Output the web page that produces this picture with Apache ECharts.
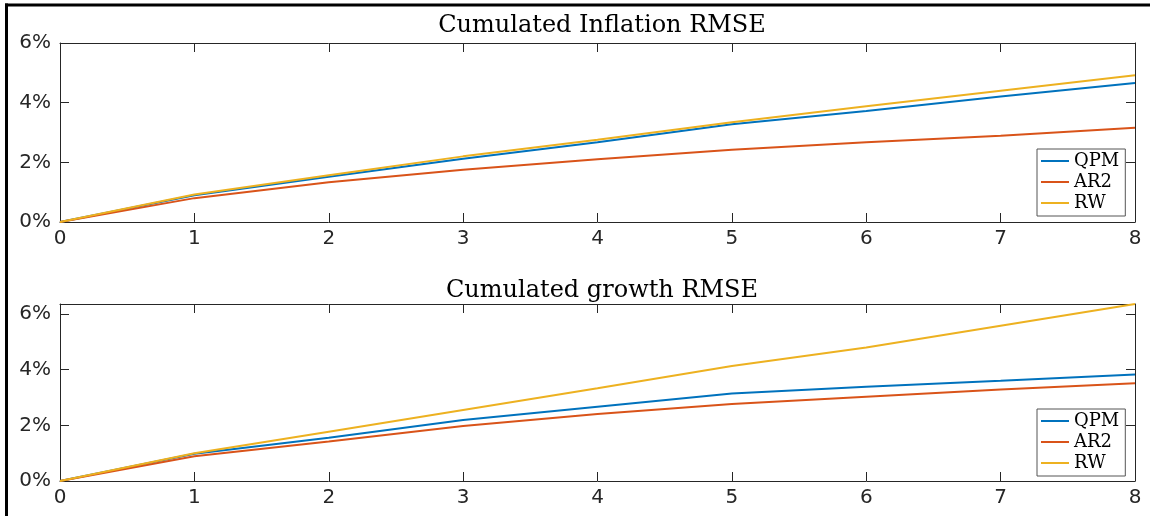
<!DOCTYPE html>
<html>
<head>
<meta charset="utf-8">
<script src="https://cdn.jsdelivr.net/npm/echarts@6/dist/echarts.min.js"></script>
<style>
html,body{margin:0;padding:0;background:#fff;}
#c{width:1150px;height:516px;}
</style>
</head>
<body>
<div id="c"></div>
<script>
const steps = [0, 1, 2, 3, 4, 5, 6, 7, 8];
const seriesNames = ['QPM', 'AR2', 'RW'];
const titles = ['Cumulated Inflation RMSE', 'Cumulated growth RMSE'];
const inflQPM = [0, 0.90, 1.52, 2.12, 2.67, 3.28, 3.72, 4.21, 4.66];
const inflAR2 = [0, 0.80, 1.33, 1.75, 2.10, 2.42, 2.67, 2.89, 3.16];
const inflRW  = [0, 0.92, 1.57, 2.20, 2.76, 3.34, 3.88, 4.40, 4.92];
const growQPM = [0, 0.98, 1.55, 2.19, 2.67, 3.14, 3.39, 3.60, 3.83];
const growAR2 = [0, 0.89, 1.42, 1.98, 2.41, 2.77, 3.03, 3.29, 3.51];
const growRW  = [0, 1.00, 1.77, 2.55, 3.33, 4.13, 4.80, 5.58, 6.36];
const yMax = [6, 6.36];

const colors = ['#0072BD', '#D95319', '#EDB120'];
const axisColor = '#262626';
const sans = 'DejaVu Sans';
const serif = 'DejaVu Serif';

function zip(ys) { return steps.map((x, i) => [x, ys[i]]); }

const grids = [
  {left: 60, right: 15, top: 43, height: 179},
  {left: 60, right: 15, top: 304, height: 177}
];

function xAx(g, pos, labels) {
  return {
    gridIndex: g, type: 'value', position: pos, min: 0, max: 8, interval: 1,
    axisLine: {show: true, onZero: false, lineStyle: {color: axisColor, width: 1}},
    axisTick: {show: true, inside: true, length: 9, lineStyle: {color: axisColor, width: 1}},
    axisLabel: {show: labels, color: axisColor, fontFamily: sans, fontSize: 20, margin: 7},
    splitLine: {show: false}
  };
}
function yAx(g, pos, labels) {
  return {
    gridIndex: g, type: 'value', position: pos, min: 0, max: yMax[g], interval: 2,
    axisLine: {show: true, onZero: false, lineStyle: {color: axisColor, width: 1}},
    axisTick: {show: true, inside: true, length: 9, lineStyle: {color: axisColor, width: 1}},
    axisLabel: {show: labels, color: axisColor, fontFamily: sans, fontSize: 20, margin: 9,
                formatter: '{value}%', showMaxLabel: g === 0},
    splitLine: {show: false}
  };
}

const allData = [[inflQPM, inflAR2, inflRW], [growQPM, growAR2, growRW]];
const series = [];
allData.forEach((set, g) => {
  set.forEach((ys, k) => {
    series.push({
      name: seriesNames[k], type: 'line', xAxisIndex: g * 2, yAxisIndex: g * 2,
      data: zip(ys), showSymbol: false, symbol: 'none', animation: false,
      lineStyle: {color: colors[k], width: 2}, itemStyle: {color: colors[k]}
    });
  });
});

function legend(top) {
  return {
    data: seriesNames, orient: 'vertical', left: 1037, top: top,
    selectedMode: false, icon: 'rect', itemWidth: 28, itemHeight: 2, itemGap: 1,
    padding: [2, 6, 3, 4], borderColor: '#555', borderWidth: 1, backgroundColor: '#fff',
    textStyle: {fontFamily: serif, fontSize: 18, lineHeight: 20, color: '#000'}
  };
}

const chart = echarts.init(document.getElementById('c'));
chart.setOption({
  animation: false,
  backgroundColor: '#fff',
  title: [
    {text: titles[0], left: 597, top: 9, textAlign: 'center',
     textStyle: {fontFamily: serif, fontSize: 24, fontWeight: 'normal', color: '#000'}},
    {text: titles[1], left: 597, top: 274, textAlign: 'center',
     textStyle: {fontFamily: serif, fontSize: 24, fontWeight: 'normal', color: '#000'}}
  ],
  grid: grids,
  xAxis: [xAx(0, 'bottom', true), xAx(0, 'top', false), xAx(1, 'bottom', true), xAx(1, 'top', false)],
  yAxis: [yAx(0, 'left', true), yAx(0, 'right', false), yAx(1, 'left', true), yAx(1, 'right', false)],
  legend: [legend(149), legend(409)],
  series: series,
  graphic: [
    {type: 'line', shape: {x1: 5, y1: 5, x2: 1150, y2: 5}, style: {stroke: '#000', lineWidth: 3}, silent: true},
    {type: 'line', shape: {x1: 6.5, y1: 3.5, x2: 6.5, y2: 516}, style: {stroke: '#000', lineWidth: 3}, silent: true}
  ]
});
</script>
</body>
</html>
